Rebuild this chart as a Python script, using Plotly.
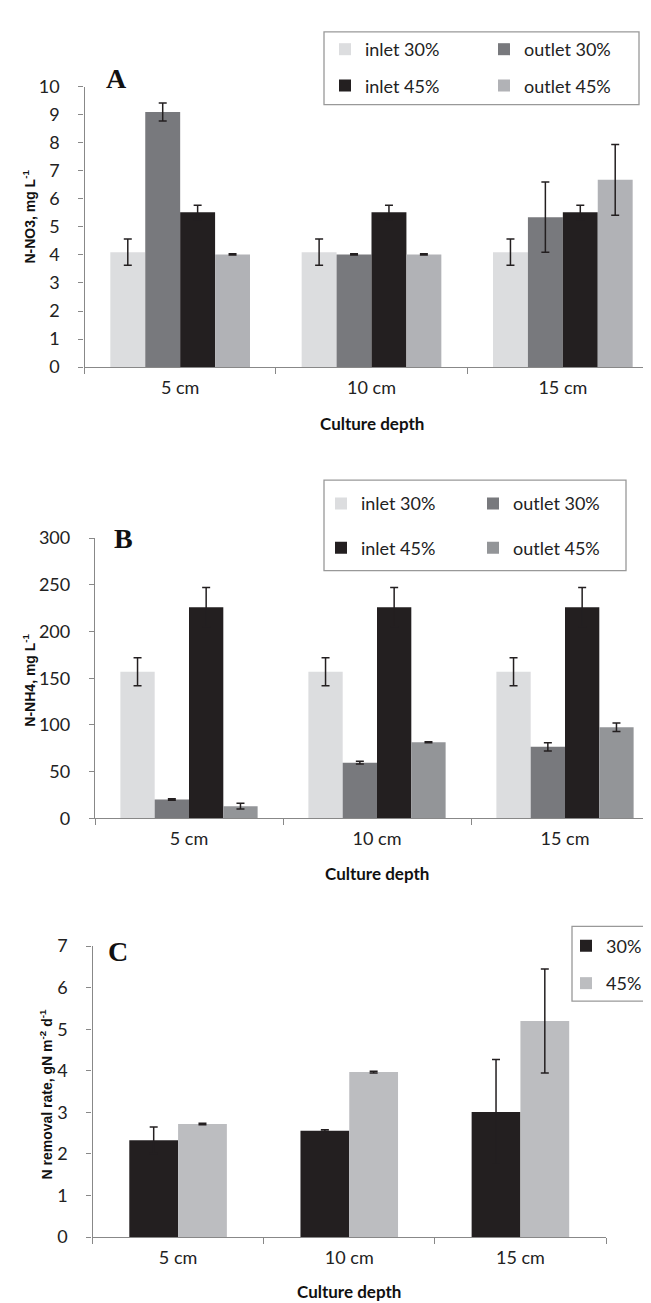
import plotly.graph_objects as go

W, H = 651, 1303

depths = ["5 cm", "10 cm", "15 cm"]

# Panel A: N-NO3
a_inlet30 = [4.1, 4.1, 4.1]
a_inlet30_err = [0.47, 0.47, 0.47]
a_outlet30 = [9.1, 4.02, 5.35]
a_outlet30_err = [0.32, 0.02, 1.25]
a_inlet45 = [5.52, 5.52, 5.52]
a_inlet45_err = [0.25, 0.25, 0.25]
a_outlet45 = [4.02, 4.02, 6.68]
a_outlet45_err = [0.02, 0.02, 1.26]

# Panel B: N-NH4
b_inlet30 = [157, 157, 157]
b_inlet30_err = [15, 15, 15]
b_outlet30 = [20, 59.5, 76.5]
b_outlet30_err = [0.8, 1.5, 4.5]
b_inlet45 = [226, 226, 226]
b_inlet45_err = [21, 21, 21]
b_outlet45 = [13, 81.5, 97.5]
b_outlet45_err = [3, 0.5, 4.5]

# Panel C: N removal rate
c_30 = [2.33, 2.56, 3.01]
c_30_err = [0.32, 0.02, 1.26]
c_45 = [2.72, 3.97, 5.2]
c_45_err = [0.02, 0.02, 1.25]

FONT = "Lato"
ERR = "#231f20"


def px(x):
    return x / W


def py(y):
    return 1 - y / H


fig = go.Figure()


def add_bar(name, y, err, color, xa, ya, legend):
    fig.add_trace(go.Bar(
        x=depths, y=y, name=name, marker=dict(color=color, line=dict(width=0)),
        error_y=dict(type="data", array=err, visible=True, color=ERR, thickness=1.5, width=4),
        xaxis=xa, yaxis=ya, legend=legend,
    ))


add_bar("inlet 30%", a_inlet30, a_inlet30_err, "#dcdddf", "x", "y", "legend")
add_bar("outlet 30%", a_outlet30, a_outlet30_err, "#78797d", "x", "y", "legend2")
add_bar("inlet 45%", a_inlet45, a_inlet45_err, "#231f20", "x", "y", "legend3")
add_bar("outlet 45%", a_outlet45, a_outlet45_err, "#b1b2b6", "x", "y", "legend4")

add_bar("inlet 30%", b_inlet30, b_inlet30_err, "#dcdddf", "x2", "y2", "legend5")
add_bar("outlet 30%", b_outlet30, b_outlet30_err, "#78797d", "x2", "y2", "legend6")
add_bar("inlet 45%", b_inlet45, b_inlet45_err, "#231f20", "x2", "y2", "legend7")
add_bar("outlet 45%", b_outlet45, b_outlet45_err, "#939598", "x2", "y2", "legend8")

add_bar("30%", c_30, c_30_err, "#231f20", "x3", "y3", "legend9")
add_bar("45%", c_45, c_45_err, "#bcbdc0", "x3", "y3", "legend10")

AX = "#888888"
xcommon = dict(type="category", showline=True, linecolor=AX, linewidth=1.3,
               ticks="outside", tickson="boundaries", ticklen=6, tickcolor=AX,
               tickfont=dict(family=FONT, size=18, color="#222"), showgrid=False,
               zeroline=False, fixedrange=True, ticklabelstandoff=4)
ycommon = dict(showline=True, linecolor=AX, linewidth=1.3, ticks="outside", ticklen=5,
               tickcolor=AX, tickfont=dict(family=FONT, size=18, color="#222"),
               showgrid=False, zeroline=False, ticklabelstandoff=15)

fig.update_layout(
    width=W, height=H, margin=dict(l=0, r=0, t=0, b=0),
    paper_bgcolor="white", plot_bgcolor="white",
    barmode="group",
    xaxis=dict(domain=[px(76.5), px(650.5)], anchor="y", **xcommon),
    yaxis=dict(domain=[py(353), py(68)], anchor="x", range=[0, 10], dtick=1, **ycommon),
    xaxis2=dict(domain=[px(87), px(651)], anchor="y2", **xcommon),
    yaxis2=dict(domain=[py(812), py(527)], anchor="x2", range=[0, 300], dtick=50, **ycommon),
    xaxis3=dict(domain=[px(84.5), px(598)], anchor="y3", **xcommon),
    yaxis3=dict(domain=[py(1238), py(942)], anchor="x3", range=[0, 7], dtick=1, **ycommon),
    bargap=0.27,
    showlegend=True,
)

# Panel C has a wider gap between groups
for tr in fig.data[8:]:
    tr.width = 0.285
fig.data[8].offset = -0.285
fig.data[9].offset = 0.0


def leg(key, x, y):
    fig.update_layout(**{key: dict(x=px(x), y=py(y), xanchor="left", yanchor="middle",
                                   bgcolor="rgba(0,0,0,0)", borderwidth=0,
                                   font=dict(family=FONT, size=18, color="#222"),
                                   itemclick=False, itemdoubleclick=False)})


leg("legend", 317, 30)
leg("legend2", 476, 30)
leg("legend3", 317, 67)
leg("legend4", 476, 67)
leg("legend5", 313, 492)
leg("legend6", 465, 492)
leg("legend7", 313, 537)
leg("legend8", 465, 537)
leg("legend9", 558, 942)
leg("legend10", 558, 980)

# legend boxes
for (x0, y0, x1, y1) in [(316, 12, 631, 86), (316, 468, 618, 560), (564, 922, 660, 998)]:
    fig.add_shape(type="rect", xref="paper", yref="paper", x0=px(x0), x1=px(x1),
                  y0=py(y0), y1=py(y1), line=dict(color="#999999", width=1.3),
                  fillcolor="rgba(0,0,0,0)")

ann = []
for t, x, y in [("A", 108, 60), ("B", 115, 527), ("C", 110, 947)]:
    ann.append(dict(text="<b>" + t + "</b>", x=px(x), y=py(y), xref="paper", yref="paper",
                    showarrow=False,
                    font=dict(family="Liberation Serif", size=28, color="#111"),
                    xanchor="center", yanchor="middle"))
for x, y in [(363.5, 410), (369, 868), (341, 1293)]:
    ann.append(dict(text="<b>Culture depth</b>", x=px(x), y=py(y), xref="paper", yref="paper",
                    showarrow=False, font=dict(family=FONT, size=17, color="#111"),
                    xanchor="center", yanchor="middle"))
for t, x, y in [("<b>N-NO3, mg L<sup>-1</sup></b>", 21, 200),
                ("<b>N-NH4, mg L<sup>-1</sup></b>", 21, 672),
                ("<b>N removal rate, gN m<sup>-2</sup> d<sup>-1</sup></b>", 38, 1093)]:
    ann.append(dict(text=t, x=px(x), y=py(y), xref="paper", yref="paper", showarrow=False,
                    textangle=-90,
                    font=dict(family="Liberation Sans", size=14, color="#111"),
                    xanchor="center", yanchor="middle"))
fig.update_layout(annotations=ann)

fig.write_html("out.html")
